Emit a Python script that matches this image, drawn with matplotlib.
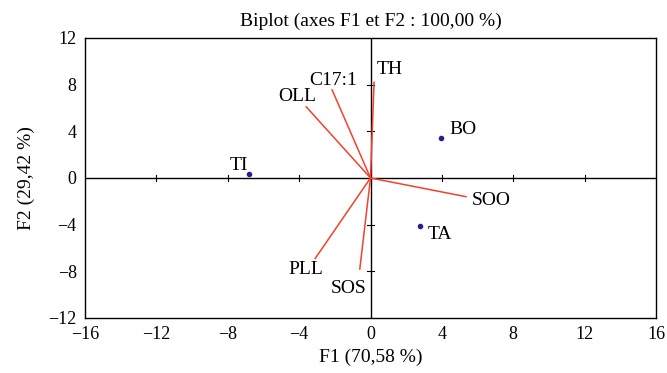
import matplotlib
matplotlib.use("Agg")
import matplotlib.pyplot as plt

plt.rcParams['font.family'] = ['Liberation Serif', 'DejaVu Serif']

# Observations (points)
obs_names = ["TI", "BO", "TA"]
obs_x = [-6.8, 3.95, 2.75]
obs_y = [0.35, 3.45, -4.15]

# Variables (vectors)
var_names = ["TH", "C17:1", "OLL", "SOO", "PLL", "SOS"]
var_x = [0.2, -2.15, -3.6, 5.35, -3.1, -0.6]
var_y = [8.2, 7.55, 6.1, -1.6, -6.9, -7.8]

xticks = [-16, -12, -8, -4, 0, 4, 8, 12, 16]
yticks = [-12, -8, -4, 0, 4, 8, 12]

fig = plt.figure(figsize=(6.67, 3.73), dpi=100)
ax = fig.add_axes([85/667, 1 - 318/373, 571/667, 280/373])
ax.set_xlim(-16, 16)
ax.set_ylim(-12, 12)

# centre lines
ax.axhline(0, color='black', lw=1.0, zorder=1)
ax.axvline(0, color='black', lw=1.0, zorder=1)
# small tick marks on centre lines
for t in xticks[1:-1]:
    if t != 0:
        ax.plot([t, t], [-0.25, 0.25], color='black', lw=0.8, zorder=1)
for t in yticks[1:-1]:
    if t != 0:
        ax.plot([-0.2, 0.2], [t, t], color='black', lw=0.8, zorder=1)

vec_color = '#F4412A'
for nm, vx, vy in zip(var_names, var_x, var_y):
    ax.plot([0, vx], [0, vy], color=vec_color, lw=1.1, zorder=2)

ax.scatter(obs_x, obs_y, s=9, color='#22228A', zorder=3)

fs = 14
# variable labels
ax.annotate("TH", (var_x[0], var_y[0]), xytext=(2, 3), textcoords='offset points', ha='left', va='bottom', fontsize=fs)
ax.annotate("C17:1", (var_x[1], var_y[1]), xytext=(1, 1), textcoords='offset points', ha='center', va='bottom', fontsize=fs)
ax.annotate("OLL", (var_x[2], var_y[2]), xytext=(7, 1), textcoords='offset points', ha='right', va='bottom', fontsize=fs)
ax.annotate("SOO", (var_x[3], var_y[3]), xytext=(4, -3), textcoords='offset points', ha='left', va='center', fontsize=fs)
ax.annotate("PLL", (var_x[4], var_y[4]), xytext=(6, -2), textcoords='offset points', ha='right', va='top', fontsize=fs)
ax.annotate("SOS", (var_x[5], var_y[5]), xytext=(5, -8), textcoords='offset points', ha='right', va='top', fontsize=fs)
# observation labels
ax.annotate("TI", (obs_x[0], obs_y[0]), xytext=(-1, 0), textcoords='offset points', ha='right', va='bottom', fontsize=fs)
ax.annotate("BO", (obs_x[1], obs_y[1]), xytext=(6, 0), textcoords='offset points', ha='left', va='bottom', fontsize=fs)
ax.annotate("TA", (obs_x[2], obs_y[2]), xytext=(6, 0), textcoords='offset points', ha='left', va='top', fontsize=fs)

ax.set_xticks(xticks)
ax.set_yticks(yticks)
ax.set_xticklabels([str(t).replace('-', '\u2212') for t in xticks])
ax.set_yticklabels([str(t).replace('-', '\u2212') for t in yticks])
ax.tick_params(length=0, labelsize=13, pad=6)
for s in ax.spines.values():
    s.set_linewidth(1.0)
    s.set_color('black')

ax.set_xlabel("F1 (70,58 %)", fontsize=14, labelpad=4)
ax.set_ylabel("F2 (29,42 %)", fontsize=14, labelpad=10)
ax.set_title("Biplot (axes F1 et F2 : 100,00 %)", fontsize=14, pad=9)

fig.savefig("out.png", dpi=100)
